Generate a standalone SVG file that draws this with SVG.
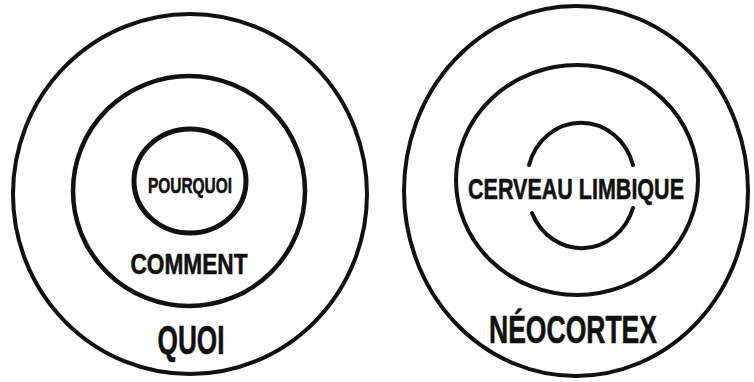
<svg xmlns="http://www.w3.org/2000/svg" width="754" height="382" viewBox="0 0 754 382">
<style>
.ring{fill:none;stroke:#111;stroke-linecap:round}
.lbl{font-family:"Liberation Sans","DejaVu Sans",sans-serif;font-weight:bold;fill:#111;stroke:#111;stroke-width:0.6;text-anchor:middle}
</style>
<rect width="754" height="382" fill="#fff"/>
<g id="left-quoi">
<ellipse class="ring" cx="190" cy="194" rx="177" ry="180" stroke-width="4"/>
<text class="lbl" x="191" y="354" font-size="40" textLength="67" lengthAdjust="spacingAndGlyphs">QUOI</text>
</g>
<g id="left-comment">
<ellipse class="ring" cx="189" cy="191" rx="116" ry="115" stroke-width="4.5"/>
<text class="lbl" x="189" y="274" font-size="29" textLength="117" lengthAdjust="spacingAndGlyphs">COMMENT</text>
</g>
<g id="left-pourquoi">
<ellipse class="ring" cx="190" cy="181" rx="56" ry="52" stroke-width="5"/>
<text class="lbl" x="190" y="193" font-size="22" textLength="84" lengthAdjust="spacingAndGlyphs">POURQUOI</text>
</g>
<g id="right-neocortex">
<ellipse class="ring" cx="576" cy="191" rx="172" ry="185" stroke-width="4"/>
<text class="lbl" x="573" y="343" font-size="38" textLength="168" lengthAdjust="spacingAndGlyphs">NÉOCORTEX</text>
</g>
<g id="right-middle">
<ellipse class="ring" cx="577" cy="180" rx="121" ry="115" stroke-width="4"/>
</g>
<g id="right-limbique">
<path class="ring" stroke-width="4" d="M529,165 A54,58 0 0 1 633,165"/>
<path class="ring" stroke-width="4" d="M532,213 A54,58 0 0 0 633,208"/>
<text class="lbl" x="576" y="199" font-size="30" textLength="216" lengthAdjust="spacingAndGlyphs">CERVEAU LIMBIQUE</text>
</g>
</svg>
